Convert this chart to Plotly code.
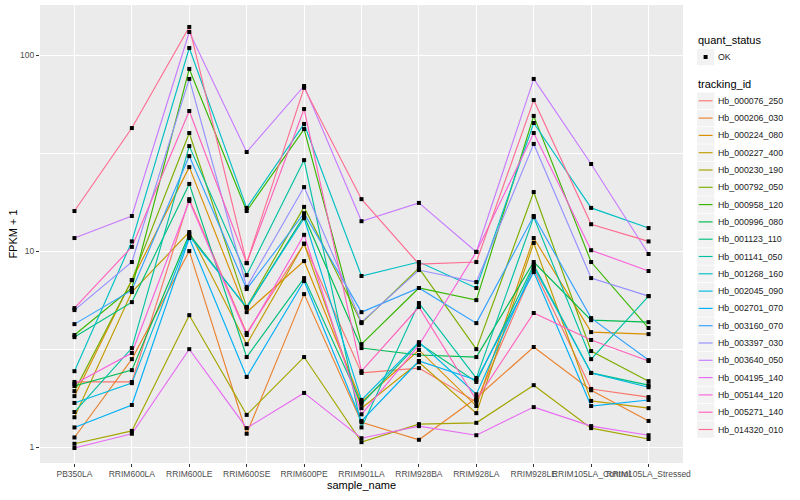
import plotly.graph_objects as go

samples = ["PB350LA", "RRIM600LA", "RRIM600LE", "RRIM600SE", "RRIM600PE", "RRIM901LA",
           "RRIM928BA", "RRIM928LA", "RRIM928LE", "RRIM105LA_Control", "RRIM105LA_Stressed"]

# FPKM + 1 per sample, one list per tracking_id
Hb_000076_250 = [2.15, 2.15, 18.4, 3.82, 10.9, 2.39, 2.53, 1.70, 8.09, 1.98, 1.80]
Hb_000206_030 = [1.12, 2.81, 10.0, 1.17, 6.03, 1.34, 1.09, 1.78, 3.24, 1.95, 1.36]
Hb_000224_080 = [1.82, 7.11, 26.8, 4.88, 8.89, 1.70, 3.13, 1.62, 11.65, 3.86, 3.77]
Hb_000227_400 = [1.42, 6.18, 12.5, 3.35, 10.9, 1.58, 2.71, 1.49, 11.0, 1.72, 1.58]
Hb_000230_190 = [1.04, 1.21, 4.71, 1.46, 2.88, 1.06, 1.31, 1.33, 2.07, 1.25, 1.10]
Hb_000792_050 = [1.93, 7.11, 40.0, 5.18, 16.8, 4.29, 8.19, 3.16, 20.0, 3.09, 2.17]
Hb_000958_120 = [3.73, 6.48, 84.9, 16.0, 41.9, 3.35, 6.48, 5.62, 48.9, 8.79, 4.05]
Hb_000996_080 = [2.05, 2.47, 12.2, 5.12, 15.1, 3.20, 2.95, 2.88, 8.79, 4.44, 4.34]
Hb_001123_110 = [3.64, 5.49, 22.0, 2.88, 7.28, 1.66, 3.39, 2.15, 8.48, 2.39, 2.07]
Hb_001141_050 = [1.51, 3.20, 34.3, 7.54, 29.1, 1.26, 5.43, 2.25, 14.9, 2.81, 5.89]
Hb_001268_160 = [2.44, 11.2, 108.6, 16.6, 44.5, 7.46, 8.79, 6.48, 45.0, 16.6, 13.1]
Hb_002045_090 = [1.68, 2.12, 11.9, 5.18, 14.7, 1.74, 3.43, 1.86, 8.29, 2.39, 2.02]
Hb_002701_070 = [1.26, 1.64, 11.65, 2.28, 7.03, 1.36, 2.75, 2.20, 7.81, 1.62, 1.74]
Hb_003160_070 = [4.24, 6.32, 30.5, 6.40, 15.6, 4.88, 6.48, 4.29, 15.1, 4.55, 2.78]
Hb_003397_030 = [5.00, 8.79, 75.5, 6.55, 21.2, 4.34, 8.00, 6.95, 35.2, 7.28, 5.89]
Hb_003640_050 = [11.65, 15.1, 131.0, 32.0, 69.5, 14.2, 17.6, 9.90, 75.5, 27.8, 9.66]
Hb_004195_140 = [0.99, 1.17, 3.16, 1.25, 1.89, 1.11, 1.28, 1.15, 1.60, 1.28, 1.15]
Hb_005144_120 = [2.10, 3.02, 18.0, 3.73, 12.1, 1.47, 3.31, 9.90, 40.0, 10.1, 7.91]
Hb_005271_140 = [5.12, 10.5, 51.8, 8.68, 53.0, 2.44, 5.18, 1.74, 4.83, 3.52, 2.75]
Hb_014320_010 = [16.0, 42.4, 139.0, 8.68, 68.0, 18.4, 8.58, 8.79, 58.9, 13.7, 11.2]

tracking_ids = ["Hb_000076_250", "Hb_000206_030", "Hb_000224_080", "Hb_000227_400",
                "Hb_000230_190", "Hb_000792_050", "Hb_000958_120", "Hb_000996_080",
                "Hb_001123_110", "Hb_001141_050", "Hb_001268_160", "Hb_002045_090",
                "Hb_002701_070", "Hb_003160_070", "Hb_003397_030", "Hb_003640_050",
                "Hb_004195_140", "Hb_005144_120", "Hb_005271_140", "Hb_014320_010"]
series = [Hb_000076_250, Hb_000206_030, Hb_000224_080, Hb_000227_400, Hb_000230_190,
          Hb_000792_050, Hb_000958_120, Hb_000996_080, Hb_001123_110, Hb_001141_050,
          Hb_001268_160, Hb_002045_090, Hb_002701_070, Hb_003160_070, Hb_003397_030,
          Hb_003640_050, Hb_004195_140, Hb_005144_120, Hb_005271_140, Hb_014320_010]
colors = ["#F8766D", "#EA8331", "#D89000", "#C09B00", "#A3A500", "#7CAE00", "#39B600",
          "#00BB4E", "#00BF7D", "#00C1A3", "#00BFC4", "#00BAE0", "#00B0F6", "#35A2FF",
          "#9590FF", "#C77CFF", "#E76BF3", "#FA62DB", "#FF62BC", "#FF6C91"]
quant_levels = ["OK"]

FONT = "Liberation Sans, Arial, sans-serif"
W, H = 800, 500
ML, MR, MT, MB = 40, 117, 5, 37
PW, PH = W - ML - MR, H - MT - MB


def px(x):
    return (x - ML) / PW


def py(y):
    return (H - MB - y) / PH


fig = go.Figure()

for tid, vals, col in zip(tracking_ids, series, colors):
    fig.add_trace(go.Scatter(
        x=samples, y=vals, mode="lines", name=tid, showlegend=False,
        line=dict(color=col, width=1.15),
    ))

all_x, all_y = [], []
for vals in series:
    all_x.extend(samples)
    all_y.extend(vals)
fig.add_trace(go.Scatter(
    x=all_x, y=all_y, mode="markers", showlegend=False, hoverinfo="skip",
    marker=dict(color="black", size=4, symbol="square"),
))

# ---- hand-built legend (ggplot style) ----
shapes, annos = [], []
KX0, KX1 = 697, 714.3
STEP = 17.3


def title(text, y):
    annos.append(dict(xref="paper", yref="paper", x=px(696), y=py(y), text=text,
                      showarrow=False, xanchor="left", yanchor="middle",
                      font=dict(size=11, color="black", family=FONT)))


def label(text, y):
    annos.append(dict(xref="paper", yref="paper", x=px(716), y=py(y), text=text,
                      showarrow=False, xanchor="left", yanchor="middle",
                      font=dict(size=8.8, color="#1A1A1A", family=FONT)))


def keybox(yc):
    shapes.append(dict(type="rect", xref="paper", yref="paper", layer="above",
                       x0=px(KX0), x1=px(KX1), y0=py(yc - STEP / 2 + 0.4), y1=py(yc + STEP / 2 - 0.4),
                       fillcolor="#F2F2F2", line=dict(width=0)))


title("quant_status", 40.5)
for i, lev in enumerate(quant_levels):
    yc = 57 + i * STEP
    keybox(yc)
    shapes.append(dict(type="rect", xref="paper", yref="paper", layer="above",
                       x0=px(703.6), x1=px(707.6), y0=py(yc - 2), y1=py(yc + 2),
                       fillcolor="black", line=dict(width=0)))
    label(lev, yc)

title("tracking_id", 84)
for i, (tid, col) in enumerate(zip(tracking_ids, colors)):
    yc = 100.8 + i * STEP
    keybox(yc)
    shapes.append(dict(type="line", xref="paper", yref="paper", layer="above",
                       x0=px(698.7), x1=px(712.6), y0=py(yc), y1=py(yc),
                       line=dict(color=col, width=1.15)))
    label(tid, yc)

fig.update_layout(
    width=W, height=H,
    margin=dict(l=ML, r=MR, t=MT, b=MB, autoexpand=False),
    paper_bgcolor="white", plot_bgcolor="#EBEBEB",
    font=dict(family=FONT, size=9, color="#4D4D4D"),
    showlegend=False, shapes=shapes, annotations=annos,
)
fig.update_xaxes(
    type="category", categoryorder="array", categoryarray=samples,
    range=[-0.6, len(samples) - 0.4], tickangle=0,
    showgrid=True, gridcolor="white", gridwidth=1.1, zeroline=False,
    ticks="outside", ticklen=3, tickcolor="#333333", tickwidth=1,
    tickfont=dict(size=8.5, color="#4D4D4D"),
    title=dict(text="sample_name", font=dict(size=11, color="black"), standoff=3),
)
fig.update_yaxes(
    type="log", range=[-0.081, 2.255],
    tickvals=[1, 10, 100], ticktext=["1", "10", "100"],
    showgrid=True, gridcolor="white", gridwidth=1.1, zeroline=False,
    ticks="outside", ticklen=3, tickcolor="#333333", tickwidth=1,
    tickfont=dict(size=8.5, color="#4D4D4D"),
    minor=dict(tickvals=[3.1623, 31.623], showgrid=True, gridcolor="white", gridwidth=0.55, ticks=""),
    title=dict(text="FPKM + 1", font=dict(size=11, color="black"), standoff=0),
)

fig.write_html("out.html", config={"displayModeBar": False},
               post_script="document.body.style.margin='0';")
